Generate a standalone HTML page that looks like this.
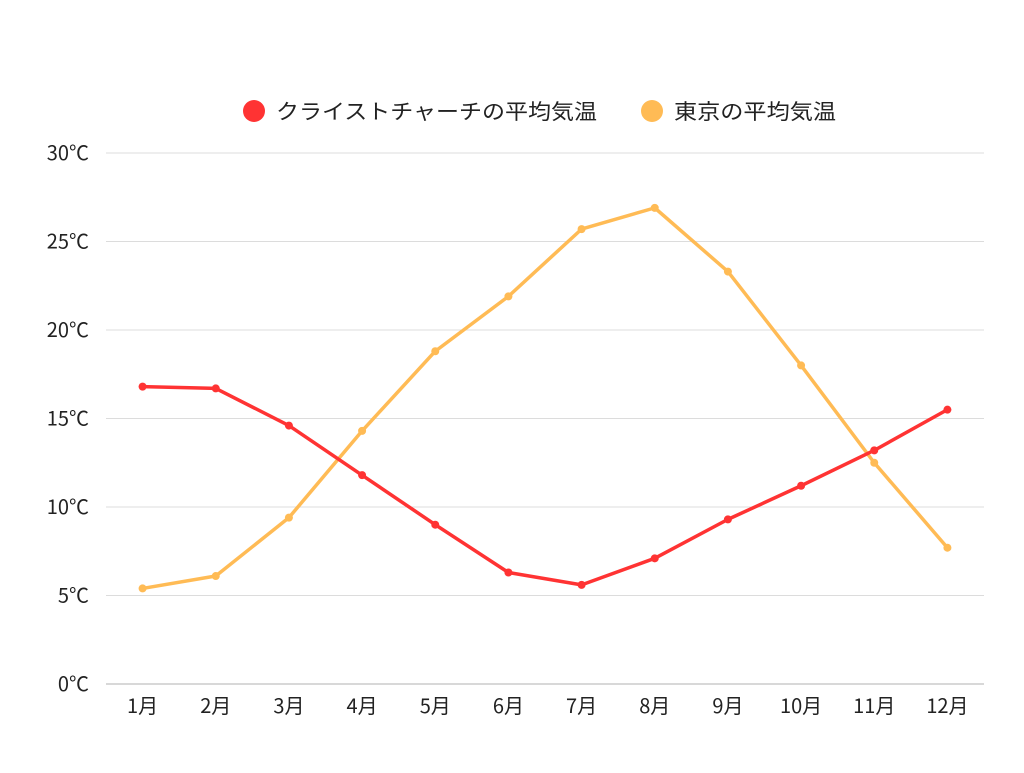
<!DOCTYPE html>
<html><head><meta charset="utf-8"><style>
html,body{margin:0;padding:0;background:#fff;}
svg text{font-family:"Noto Sans CJK JP","Liberation Sans",sans-serif;fill:#222;}
</style></head><body>
<svg id="chart" width="1024" height="768">
<g id="legend">
<g><circle cx="254" cy="111" r="11" fill="#ff3333"/><text x="276" y="119" font-size="21" textLength="321" lengthAdjust="spacingAndGlyphs">クライストチャーチの平均気温</text></g>
<g><circle cx="652" cy="111" r="11" fill="#ffbb55"/><text x="674" y="119" font-size="21" textLength="162" lengthAdjust="spacingAndGlyphs">東京の平均気温</text></g>
</g>
<g id="grid"></g><g id="axes"></g><g id="series"></g>
</svg>
<script>
const categories=["1月","2月","3月","4月","5月","6月","7月","8月","9月","10月","11月","12月"];
const christchurch=[16.8,16.7,14.6,11.8,9.0,6.3,5.6,7.1,9.3,11.2,13.2,15.5];
const tokyo=[5.4,6.1,9.4,14.3,18.8,21.9,25.7,26.9,23.3,18.0,12.5,7.7];
const yTicks=[0,5,10,15,20,25,30];
const yTickLabels=["0℃","5℃","10℃","15℃","20℃","25℃","30℃"];
const NS="http://www.w3.org/2000/svg";
const L=106,R=984,T=153,B=684,yMax=30;
const bw=(R-L)/categories.length;
const x=i=>L+bw*(i+0.5);
const y=v=>B-(v/yMax)*(B-T);
function mk(tag,attrs,parent){const e=document.createElementNS(NS,tag);for(const k in attrs)e.setAttribute(k,attrs[k]);parent.appendChild(e);return e;}
const grid=document.getElementById('grid'),axes=document.getElementById('axes'),series=document.getElementById('series');
yTicks.forEach((t,i)=>{
 if(t>0){const g=mk('line',{x1:L,x2:R,y1:y(t),y2:y(t),stroke:'#dcdcdc','stroke-width':1},grid);
 
 }
 const tx=mk('text',{x:89,y:y(t)+7,'font-size':20,'text-anchor':'end'},axes);tx.textContent=yTickLabels[i];
 
 
});
const ax=mk('line',{x1:L,x2:R,y1:B,y2:B,stroke:'#b0b0b0','stroke-width':1},axes);


categories.forEach((c,i)=>{
 const tx=mk('text',{x:x(i),y:713,'font-size':20,'text-anchor':'middle'},axes);tx.textContent=c;
 
 
});
function draw(data,color,name){
 const g=mk('g',{},series);
 
 
 const p=mk('polyline',{points:data.map((v,i)=>x(i)+','+y(v)).join(' '),fill:'none',stroke:color,'stroke-width':3.5,'stroke-linejoin':'round'},g);
 
 
 data.forEach((v,i)=>{const c=mk('circle',{cx:x(i),cy:y(v),r:4,fill:color},g);
 
 });
}
draw(tokyo,'#ffbb55','tokyo');
draw(christchurch,'#ff3333','christchurch');
</script>
</body></html>
